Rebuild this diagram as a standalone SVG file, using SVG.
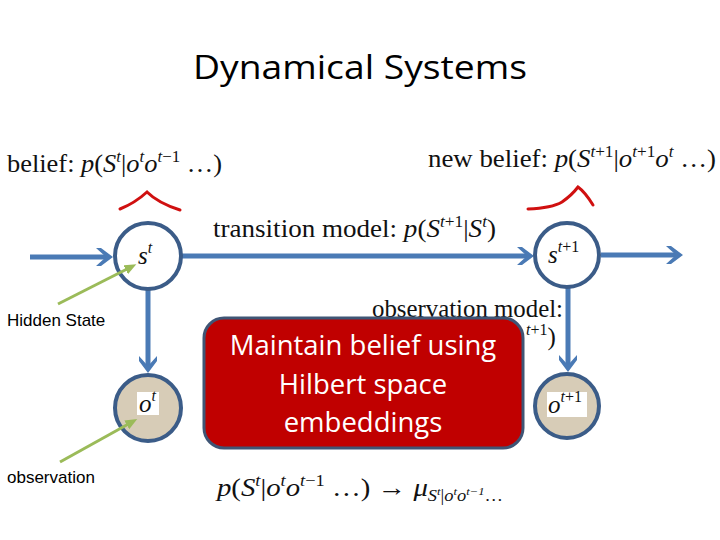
<svg xmlns="http://www.w3.org/2000/svg" width="720" height="540" viewBox="0 0 720 540">
<style>
.title{font-family:"Open Sans","Liberation Sans",sans-serif;font-size:33px;fill:#000}
.m{font-family:"Liberation Serif","DejaVu Serif",serif;font-size:25px;fill:#111}
.i{font-style:italic}
.s{font-size:16px}
.lab{font-family:"Liberation Sans",Arial,sans-serif;font-size:17px;fill:#000}
.box{fill:#C00000;stroke:#3F5575;stroke-width:3}
.boxt{font-family:"Open Sans","Liberation Sans",sans-serif;font-size:27.5px;fill:#fff;text-anchor:middle}
.st{fill:#fff;stroke:#3B5C88;stroke-width:4}
.ob{fill:#D7CCB7;stroke:#3B5C88;stroke-width:4}
.edge{stroke:#4A7AB5;stroke-width:5;fill:none;marker-end:url(#bh)}
.gr{stroke:#9BBB59;stroke-width:3;fill:none;marker-end:url(#gh)}
.red{stroke:#D01010;stroke-width:3;fill:none;stroke-linecap:round}
</style>
<defs>
<marker id="bh" markerUnits="userSpaceOnUse" markerWidth="20" markerHeight="20" refX="10" refY="9" orient="auto">
<path d="M0,0 L5,0 L17,9 L5,18 L0,18 L10,9 z" fill="#4A7AB5"/>
</marker>
<marker id="gh" markerUnits="userSpaceOnUse" markerWidth="14" markerHeight="14" refX="6" refY="5" orient="auto">
<path d="M0,0 L12,5 L0,10 z" fill="#9BBB59"/>
</marker>
</defs>
<rect width="720" height="540" fill="#fff"/>
<text class="title" x="360" y="79" text-anchor="middle" textLength="334" lengthAdjust="spacingAndGlyphs">Dynamical Systems</text>

<g id="labels-math">
<text class="m" x="7" y="172" textLength="215" lengthAdjust="spacingAndGlyphs">belief: <tspan class="i">p</tspan>(<tspan class="i">S</tspan><tspan class="s i" dy="-10">t</tspan><tspan dy="10">|</tspan><tspan class="i">o</tspan><tspan class="s i" dy="-10">t</tspan><tspan class="i" dy="10">o</tspan><tspan class="s i" dy="-10">t</tspan><tspan class="s" >−1</tspan><tspan dy="10"> …)</tspan></text>
<text class="m" x="428" y="167" textLength="288" lengthAdjust="spacingAndGlyphs">new belief: <tspan class="i">p</tspan>(<tspan class="i">S</tspan><tspan class="s i" dy="-10">t</tspan><tspan class="s">+1</tspan><tspan dy="10">|</tspan><tspan class="i">o</tspan><tspan class="s i" dy="-10">t</tspan><tspan class="s">+1</tspan><tspan class="i" dy="10">o</tspan><tspan class="s i" dy="-10">t</tspan><tspan dy="10"> …)</tspan></text>
<text class="m" x="213" y="237" textLength="283" lengthAdjust="spacingAndGlyphs">transition model: <tspan class="i">p</tspan>(<tspan class="i">S</tspan><tspan class="s i" dy="-10">t</tspan><tspan class="s">+1</tspan><tspan dy="10">|</tspan><tspan class="i">S</tspan><tspan class="s i" dy="-10">t</tspan><tspan dy="10">)</tspan></text>
<text class="m" x="372" y="317" textLength="191" lengthAdjust="spacingAndGlyphs">observation model:</text>
<text class="m" x="526" y="345"><tspan class="s i" dy="-10">t</tspan><tspan class="s">+1</tspan><tspan dy="10">)</tspan></text>
<text class="m" x="217" y="496" textLength="286" lengthAdjust="spacingAndGlyphs"><tspan class="i">p</tspan>(<tspan class="i">S</tspan><tspan class="s i" dy="-10">t</tspan><tspan dy="10">|</tspan><tspan class="i">o</tspan><tspan class="s i" dy="-10">t</tspan><tspan class="i" dy="10">o</tspan><tspan class="s i" dy="-10">t</tspan><tspan class="s">−1</tspan><tspan dy="10"> …) → </tspan><tspan class="i">μ</tspan><tspan class="s i" dy="5">S</tspan><tspan class="i" style="font-size:11px" dy="-6">t</tspan><tspan class="s" dy="6">|</tspan><tspan class="s i">o</tspan><tspan class="i" style="font-size:11px" dy="-6">t</tspan><tspan class="s i" dy="6">o</tspan><tspan class="i" style="font-size:11px" dy="-6">t−1</tspan><tspan class="s" dy="6">…</tspan></text>
</g>

<g id="brackets">
<path class="red" d="M120,209 Q135,203 147,192 Q158,203 180,210"/>
<path class="red" d="M528,209 Q552,208 562,202 Q572,195 578,187 Q585,192 593,205"/>
</g>

<g id="connectors">
<line class="edge" x1="30" y1="257" x2="106" y2="257"/>
<line class="edge" x1="182" y1="256" x2="527" y2="256"/>
<line class="edge" x1="601" y1="255" x2="676" y2="255"/>
<line class="edge" x1="148" y1="289" x2="148" y2="366"/>
<line class="edge" x1="568" y1="288" x2="568" y2="365"/>
</g>

<g id="node-st">
<circle class="st" cx="148" cy="256" r="33"/>
<text class="m i" x="138" y="264">s<tspan class="s" dy="-11">t</tspan></text>
</g>
<g id="node-st1">
<circle class="st" cx="567" cy="255" r="32"/>
<text class="m i" x="548" y="263">s<tspan class="s" dy="-11">t</tspan><tspan class="s" style="font-style:normal">+1</tspan></text>
</g>
<g id="node-ot">
<circle class="ob" cx="148" cy="408" r="33"/>
<rect x="137" y="392" width="22" height="23" fill="#fff"/>
<text class="m i" x="139" y="412">o<tspan class="s" dy="-11">t</tspan></text>
</g>
<g id="node-ot1">
<circle class="ob" cx="567" cy="406" r="32"/>
<rect x="547" y="392" width="40" height="25" fill="#fff"/>
<text class="m i" x="548" y="413">o<tspan class="s" dy="-11">t</tspan><tspan class="s" style="font-style:normal">+1</tspan></text>
</g>

<g id="pointers">
<line class="gr" x1="58" y1="304" x2="131" y2="267"/>
<line class="gr" x1="60" y1="462" x2="132" y2="422"/>
</g>

<g id="label-hidden"><text class="lab" x="7" y="326">Hidden State</text></g>
<g id="label-obs"><text class="lab" x="7" y="483">observation</text></g>

<g id="callout">
<rect class="box" x="204" y="318" width="319" height="130" rx="20"/>
<text class="boxt" x="363" y="355">Maintain belief using</text>
<text class="boxt" x="363" y="394">Hilbert space</text>
<text class="boxt" x="363" y="432">embeddings</text>
</g>
</svg>
